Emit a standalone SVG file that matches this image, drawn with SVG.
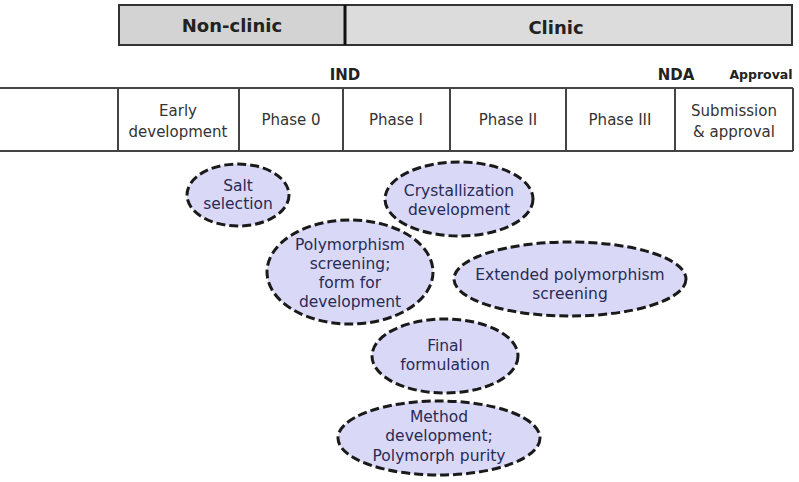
<svg xmlns="http://www.w3.org/2000/svg" width="799" height="482" viewBox="0 0 799 482">
<style>
.bar{stroke:#333;stroke-width:2}
.hdr{font-family:"DejaVu Sans",Verdana,sans-serif;font-weight:bold;fill:#222;text-anchor:middle}
.cell{font-family:"DejaVu Sans",Verdana,sans-serif;font-size:15px;fill:#333;text-anchor:middle}
.tl{stroke:#444;stroke-width:2;fill:none}
.ell{fill:#d9d9f7;stroke:#1a1a1a;stroke-width:3;stroke-dasharray:9 4}
.et{font-family:"DejaVu Sans",Verdana,sans-serif;font-size:15.5px;fill:#2a2a55;text-anchor:middle}
</style>
<rect width="799" height="482" fill="#ffffff"/>
<g id="phase-bar">
<rect class="bar" x="119" y="5" width="226" height="40" fill="#d3d3d3"/>
<rect class="bar" x="345" y="5" width="447" height="40" fill="#dcdcdc"/>
<line x1="345" y1="5" x2="345" y2="45" stroke="#111" stroke-width="3"/>
<text class="hdr" x="232" y="32" font-size="18">Non-clinic</text>
<text class="hdr" x="556" y="34" font-size="18">Clinic</text>
</g>
<g id="milestones">
<text class="hdr" x="345" y="80" font-size="15">IND</text>
<text class="hdr" x="676" y="80" font-size="15">NDA</text>
<text class="hdr" x="761" y="79" font-size="12.5">Approval</text>
</g>
<g id="timeline">
<line class="tl" x1="0" y1="88" x2="793" y2="88"/>
<line class="tl" x1="0" y1="151" x2="793" y2="151"/>
<line class="tl" x1="793" y1="88" x2="793" y2="151"/>
<line class="tl" x1="118" y1="88" x2="118" y2="151"/>
<line class="tl" x1="239" y1="88" x2="239" y2="151"/>
<line class="tl" x1="343" y1="88" x2="343" y2="151"/>
<line class="tl" x1="450" y1="88" x2="450" y2="151"/>
<line class="tl" x1="566" y1="88" x2="566" y2="151"/>
<line class="tl" x1="675" y1="88" x2="675" y2="151"/>
<text class="cell" x="178" y="116">Early</text>
<text class="cell" x="178" y="137">development</text>
<text class="cell" x="291" y="125">Phase 0</text>
<text class="cell" x="396" y="125">Phase I</text>
<text class="cell" x="508" y="125">Phase II</text>
<text class="cell" x="620" y="125">Phase III</text>
<text class="cell" x="734" y="116">Submission</text>
<text class="cell" x="734" y="137">&amp; approval</text>
</g>
<g id="salt-selection">
<ellipse class="ell" cx="238" cy="195" rx="51" ry="31"/>
<text class="et" x="238" y="191">Salt</text>
<text class="et" x="238" y="209">selection</text>
</g>
<g id="crystallization-development">
<ellipse class="ell" cx="459" cy="199" rx="74" ry="37"/>
<text class="et" x="459" y="196">Crystallization</text>
<text class="et" x="459" y="215">development</text>
</g>
<g id="polymorphism-screening">
<ellipse class="ell" cx="350" cy="272" rx="83" ry="52"/>
<text class="et" x="350" y="250">Polymorphism</text>
<text class="et" x="350" y="269">screening;</text>
<text class="et" x="350" y="288">form for</text>
<text class="et" x="350" y="307">development</text>
</g>
<g id="extended-polymorphism-screening">
<ellipse class="ell" cx="570" cy="279" rx="116" ry="37"/>
<text class="et" x="570" y="280">Extended polymorphism</text>
<text class="et" x="570" y="299">screening</text>
</g>
<g id="final-formulation">
<ellipse class="ell" cx="445" cy="356" rx="73" ry="37"/>
<text class="et" x="445" y="351">Final</text>
<text class="et" x="445" y="370">formulation</text>
</g>
<g id="method-development">
<ellipse class="ell" cx="439" cy="438" rx="101" ry="37"/>
<text class="et" x="439" y="422">Method</text>
<text class="et" x="439" y="441">development;</text>
<text class="et" x="439" y="461">Polymorph purity</text>
</g>
<g id="connectors"></g>
</svg>
